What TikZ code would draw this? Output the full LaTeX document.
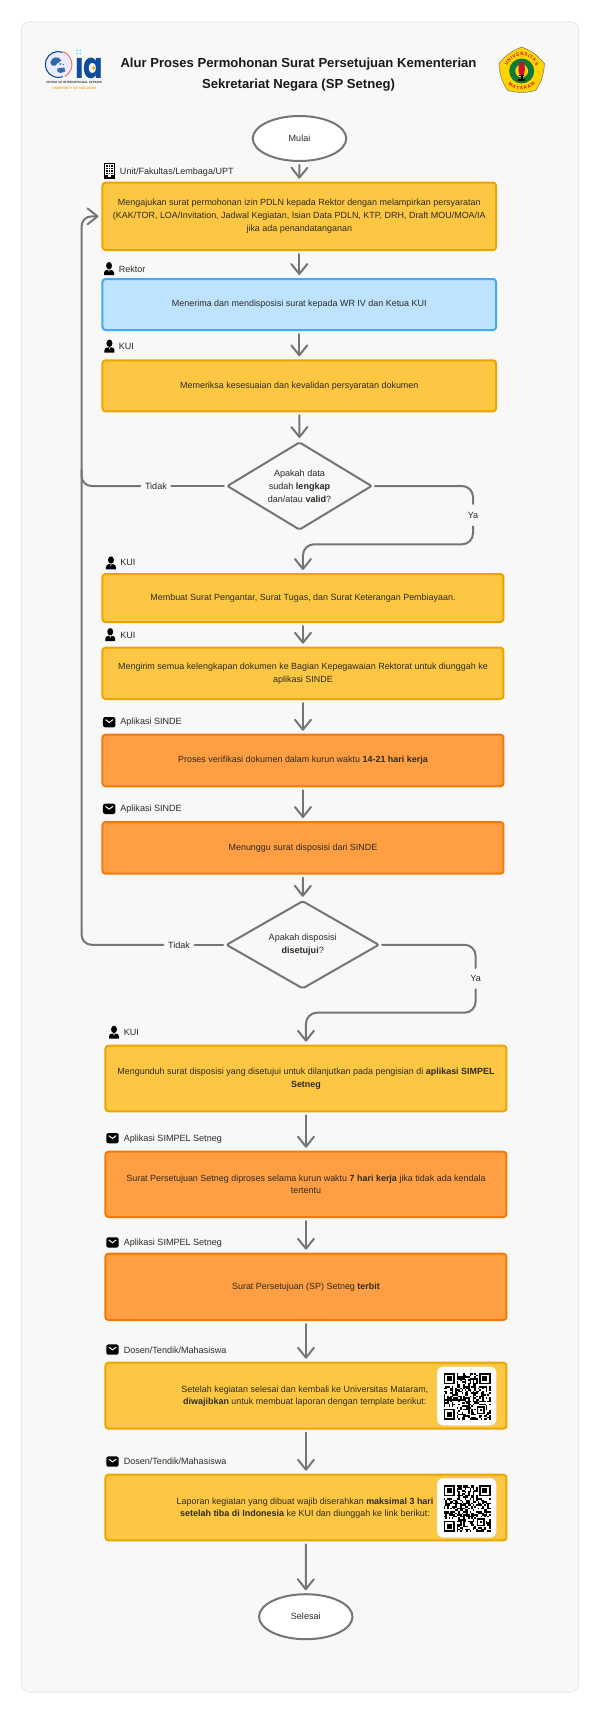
\documentclass[tikz,border=0pt]{standalone}
\usepackage{fontspec}
\setmainfont{Liberation Sans}
\newfontfamily\logofont{Poppins}
\usetikzlibrary{shapes.geometric,arrows.meta,decorations.text}
\definecolor{panelc}{HTML}{F8F8F8}
\definecolor{panelb}{HTML}{E9E9E9}
\definecolor{linegray}{HTML}{757575}
\definecolor{yelf}{HTML}{FEC743}
\definecolor{yels}{HTML}{EBA500}
\definecolor{blf}{HTML}{BEE3FF}
\definecolor{bls}{HTML}{42ABF7}
\definecolor{orf}{HTML}{FF9E42}
\definecolor{ors}{HTML}{F27A0A}
\definecolor{txt}{HTML}{2B2B24}
\definecolor{iablue}{HTML}{0F4C9C}
\definecolor{iagold}{HTML}{E9A825}
\definecolor{sealy}{HTML}{FFD400}
\definecolor{sealr}{HTML}{C8102E}
\definecolor{sealg}{HTML}{0F7A3A}
\tikzset{
  boxbase/.style={rectangle,rounded corners=3pt,line width=2pt,inner sep=0pt,align=center,
    text=txt,font=\fontsize{8.95}{12.8}\selectfont},
  yellowbox/.style={boxbase,draw=yels,fill=yelf},
  bluebox/.style={boxbase,draw=bls,fill=blf},
  orangebox/.style={boxbase,draw=ors,fill=orf},
  wA/.style={minimum width=393.6pt},
  wB/.style={minimum width=401pt},
  terminal/.style={ellipse,draw=linegray,fill=white,line width=2pt,inner sep=0pt,
    minimum width=93.5pt,minimum height=45pt,text=txt,font=\fontsize{9.05}{12.8}\selectfont},
  decision/.style={diamond,draw=linegray,fill=panelc,line width=2pt,inner sep=0pt,rounded corners=2pt,
    align=center,text=txt,font=\fontsize{9.05}{12.8}\selectfont},
  conn/.style={draw=linegray,line width=2pt,line cap=round,
    -{Straight Barb[length=10pt,width=16pt,round]},shorten <=3pt,shorten >=3pt},
  plain/.style={draw=linegray,line width=2pt,line cap=round},
  edgelbl/.style={inner sep=0pt,text=txt,font=\fontsize{9.05}{12.8}\selectfont},
  boxtext/.style={inner sep=0pt,text=txt,font=\fontsize{8.95}{12.8}\selectfont},
  lbl/.style={anchor=west,inner sep=0pt,text=txt,font=\fontsize{9.05}{12.8}\selectfont},
}
\newcommand{\personicon}[2]{\begin{scope}[shift={(#1,#2)}]
  \fill[black] (5,3.7) ellipse [x radius=3,y radius=3.7];
  \fill[black] (0,13) -- (0,10.6) .. controls (0,8.8) and (1.5,8) .. (3.4,7.8) -- (6.6,7.8)
     .. controls (8.5,8) and (10,8.8) .. (10,10.6) -- (10,13) -- cycle;
  \fill[white] (4.3,8) -- (5.7,8) -- (5,10) -- cycle;
\end{scope}}
\newcommand{\mailicon}[2]{\begin{scope}[shift={(#1,#2)}]
  \fill[black,rounded corners=2.2pt] (0,0) rectangle (12.5,10.3);
  \draw[white,line width=1pt,line cap=round] (2.7,2.8) -- (6.25,5.4) -- (9.8,2.8);
\end{scope}}
\newcommand{\buildicon}[2]{\begin{scope}[shift={(#1,#2)}]
  \draw[black,line width=1pt,fill=white] (.5,.5) rectangle (10.3,15.5);
  \foreach \a in {2.3,4.6,6.9}{\foreach \b in {2.3,4.7,7.1,9.5}{\fill[black] (\a,\b) rectangle ++(1.6,1.6);}}
  \fill[black] (.5,12) rectangle (3.6,16);
  \fill[black] (7.2,12) rectangle (10.3,16);
  \fill[black] (3.6,14) rectangle (7.2,16);
\end{scope}}
\newcommand{\qrfinder}[2]{%
  \fill[black] (#1*1.62,#2*1.62) rectangle ++(11.34,11.34);
  \fill[white] (#1*1.62+1.62,#2*1.62+1.62) rectangle ++(8.1,8.1);
  \fill[black] (#1*1.62+3.24,#2*1.62+3.24) rectangle ++(4.86,4.86);}
\newcommand{\qrblock}[3]{\begin{scope}[shift={(#1,#2)}]
  \pgfmathsetseed{#3}
  \foreach \i in {0,...,28}{\foreach \j in {0,...,28}{%
    \pgfmathrandominteger{\rr}{0}{99}%
    \ifnum\rr<50\relax
      \fill[black] (\i*1.62,\j*1.62) rectangle ++(1.64,1.64);
    \fi}}
  \fill[white] (0,0) rectangle (12.96,12.96);
  \fill[white] (34.02,0) rectangle (46.98,12.96);
  \fill[white] (0,34.02) rectangle (12.96,46.98);
  \qrfinder{0}{0}\qrfinder{22}{0}\qrfinder{0}{22}
  \fill[white] (32.4,32.4) rectangle ++(9.72,9.72);
  \fill[black] (33.2,33.2) rectangle ++(8.1,8.1);
  \fill[white] (34.82,34.82) rectangle ++(4.86,4.86);
  \fill[black] (36.44,36.44) rectangle ++(1.62,1.62);
\end{scope}}
\begin{document}
\begin{tikzpicture}[x=0.995pt,y=-1pt]
\useasboundingbox (0,0) rectangle (603,1714);
\fill[white] (0,0) rectangle (603,1714);
\draw[draw=panelb,fill=panelc,line width=1pt,rounded corners=8pt] (21.5,22) rectangle (581.5,1692);

% logo left
\begin{scope}[shift={(58.6,64.5)},x=1pt,y=1pt]
  \fill[blue!8!white] (0,0) circle (12.4);
  \draw[iablue,line width=1.1pt] (70:13) arc (70:290:13);
  \draw[red!65!white,line width=.9pt] (68:13.6) arc (68:-62:13.6);
  \fill[iablue!85] (-8,2) .. controls (-7,8) and (1,9) .. (3,4) .. controls (1,1) and (-2,2) .. (-3,-1) .. controls (-5,-2) and (-7,-1) .. cycle;
  \fill[iablue!85] (-1,-4) -- (6,-3) -- (7,-7) -- (2,-8.5) -- (-1,-7) -- cycle;
  \fill[iablue!85] (2,0.5) circle (1) (5,0) circle (.8);
\end{scope}
\node[inner sep=0pt,text=iablue,xscale=.8,font=\logofont\bfseries\fontsize{36}{36}\selectfont,anchor=center] (ialogo) at (89.6,64.5) {ia};
\fill[panelc] (74,45) rectangle (85,55.6);
\fill[blue!30!cyan!55!white] (77.4,50.4) circle (1) (80.6,50.4) circle (1) (77.4,53.6) circle (1) (80.6,53.6) circle (1);
\fill[iagold] (94.2,68) circle (1.9);
\node[inner sep=0pt,text=black!80,font=\bfseries\fontsize{3.05}{3.4}\selectfont] (iaone) at (74.5,82.9) {OFFICE OF INTERNATIONAL AFFAIRS};
\node[inner sep=0pt,text=iagold,font=\bfseries\fontsize{3.35}{3.6}\selectfont] (iatwo) at (74.5,88) {UNIVERSITY OF MATARAM};

% seal right
\begin{scope}[shift={(524.3,71)},x=1pt,y=1pt]
  \draw[black!55,line width=.5pt,fill=sealy] (90:24) to[bend left=14] (18:24) to[bend left=14] (-54:24)
     to[bend left=14] (-126:24) to[bend left=14] (162:24) to[bend left=14] cycle;
  \fill[sealg] (0,0) circle (12.5);
  \fill[sealy] (0,0) circle (6.4);
  \fill[sealr] (0,2) ellipse [x radius=3.2,y radius=7.5];
  \fill[black] (-3.2,-9.5) rectangle (3.2,-8.2);
  \fill[black] (-1,-8.2) rectangle (1,-4.5);
  \fill[black] (-2.5,-5) rectangle (2.5,-4);
  \path[postaction={decorate,decoration={text along path,text align={fit to path},
     text={|\fontsize{4.6}{5}\bfseries\selectfont\color{sealr}|UNIVERSITAS}}}]
     (160:15.2) arc (160:20:15.2);
  \path[postaction={decorate,decoration={text along path,text align={fit to path},
     text={|\fontsize{4.6}{5}\bfseries\selectfont\color{sealr}|MATARAM}}}]
     (-135:19) arc (-135:-45:19);
\end{scope}

% title
\node[inner sep=0pt,align=center,text=black!90,font=\bfseries\fontsize{13.1}{20.4}\selectfont] (title) at (300,74.8)
  {Alur Proses Permohonan Surat Persetujuan Kementerian\\Sekretariat Negara (SP Setneg)};

% terminals and boxes
\node[terminal] (mulai) at (301,138.5) {Mulai};
\node[yellowbox,wA,minimum height=67.3pt] (b1) at (300.8,216.35)
 {Mengajukan surat permohonan izin PDLN kepada Rektor dengan melampirkan persyaratan\\
  (KAK/TOR, LOA/Invitation, Jadwal Kegiatan, Isian Data PDLN, KTP, DRH, Draft MOU/MOA/IA\\
  jika ada penandatanganan};
\node[bluebox,wA,minimum height=51pt] (b2) at (300.8,304.5) {Menerima dan mendisposisi surat kepada WR IV dan Ketua KUI};
\node[yellowbox,wA,minimum height=51pt] (b3) at (300.8,385.8) {Memeriksa kesesuaian dan kevalidan persyaratan dokumen};
\node[decision,aspect=1.65,minimum width=145pt,minimum height=88pt] (d1) at (301,486)
 {Apakah data\\sudah \textbf{lengkap}\\dan/atau \textbf{valid}?};
\node[yellowbox,wB,minimum height=48pt] (b4) at (304.5,598) {Membuat Surat Pengantar, Surat Tugas, dan Surat Keterangan Pembiayaan.};
\node[yellowbox,wB,minimum height=51.3pt] (b5) at (304.5,673.35)
 {Mengirim semua kelengkapan dokumen ke Bagian Kepegawaian Rektorat untuk diunggah ke\\aplikasi SINDE};
\node[orangebox,wB,minimum height=51.6pt] (b6) at (304.5,760.5) {Proses verifikasi dokumen dalam kurun waktu \textbf{14-21 hari kerja}};
\node[orangebox,wB,minimum height=51.7pt] (b7) at (304.5,847.85) {Menunggu surat disposisi dari SINDE};
\node[decision,aspect=1.75,minimum width=153pt,minimum height=88pt] (d2) at (304.2,944.8) {Apakah disposisi\\\textbf{disetujui}?};
\node[yellowbox,wB,minimum height=65.6pt] (b8) at (307.5,1078.5)
 {Mengunduh surat disposisi yang disetujui untuk dilanjutkan pada pengisian di \textbf{aplikasi SIMPEL}\\\textbf{Setneg}};
\node[orangebox,wB,minimum height=65.3pt] (b9) at (307.5,1184.35)
 {Surat Persetujuan Setneg diproses selama kurun waktu \textbf{7 hari kerja} jika tidak ada kendala\\tertentu};
\node[orangebox,wB,minimum height=66.3pt] (b10) at (307.5,1286.85) {Surat Persetujuan (SP) Setneg \textbf{terbit}};
\node[yellowbox,wB,minimum height=66pt] (b11) at (307.5,1395.7) {};
\node[boxtext,align=center] (t11) at (306.4,1396.2)
 {Setelah kegiatan selesai dan kembali ke Universitas Mataram,\\\textbf{diwajibkan} untuk membuat laporan dengan template berikut:};
\node[yellowbox,wB,minimum height=65.6pt] (b12) at (307.5,1507.5) {};
\node[boxtext,align=center] (t12) at (306.6,1508.2)
 {Laporan kegiatan yang dibuat wajib diserahkan \textbf{maksimal 3 hari}\\\textbf{setelah tiba di Indonesia} ke KUI dan diunggah ke link berikut:};
\node[terminal] (selesai) at (307.3,1616.7) {Selesai};

% QR
\node[draw=black!8,line width=.4pt,fill=white,rounded corners=6pt,minimum width=59pt,minimum height=58.5pt,inner sep=0pt] (qa) at (469,1396) {};
\node[draw=black!8,line width=.4pt,fill=white,rounded corners=6pt,minimum width=59pt,minimum height=59pt,inner sep=0pt] (qb) at (469,1507.8) {};
\qrblock{446}{1373}{7}
\qrblock{446}{1485}{23}

% lane labels
\buildicon{104.6}{163}
\node[lbl] (l1) at (120.4,172) {Unit/Fakultas/Lembaga/UPT};
\personicon{104.6}{262}
\node[lbl] (l2) at (119.2,269) {Rektor};
\personicon{105}{339.5}
\node[lbl] (l3) at (119.2,346) {KUI};
\personicon{106.5}{556.3}
\node[lbl] (l4) at (120.8,562.7) {KUI};
\personicon{105.8}{628}
\node[lbl] (l5) at (120.8,635) {KUI};
\mailicon{103.5}{717}
\node[lbl] (l6) at (120.8,722.3) {Aplikasi SINDE};
\mailicon{103.5}{803.7}
\node[lbl] (l7) at (120.8,809) {Aplikasi SINDE};
\personicon{109.6}{1025.7}
\node[lbl] (l8) at (124.2,1032.3) {KUI};
\mailicon{106.8}{1133}
\node[lbl] (l9) at (124.2,1138.7) {Aplikasi SIMPEL Setneg};
\mailicon{106.8}{1237.3}
\node[lbl] (l10) at (124.2,1243) {Aplikasi SIMPEL Setneg};
\mailicon{106.8}{1344.4}
\node[lbl] (l11) at (124.2,1350.3) {Dosen/Tendik/Mahasiswa};
\mailicon{106.8}{1456.4}
\node[lbl] (l12) at (124.2,1461.7) {Dosen/Tendik/Mahasiswa};

% branch labels
\node[edgelbl,minimum width=30.5pt] (t1) at (156.7,486) {Tidak};
\node[edgelbl,minimum width=30.8pt] (t2) at (180,944.8) {Tidak};
\node[edgelbl,minimum height=22pt] (y1) at (475.4,515.2) {Ya};
\node[edgelbl,minimum height=21pt] (y2) at (478,978.6) {Ya};
\coordinate (trunk) at (82,216.35);
\coordinate (join) at (82,470);
\coordinate (ya1) at (304.5,544.3);
\coordinate (ya2) at (307.5,1012.7);

% connectors
\draw[conn] (mulai.south) -- (b1.north);
\draw[conn] (b1.south) -- (b2.north);
\draw[conn] (b2.south) -- (b3.north);
\draw[conn] (b3.south) -- (d1.north);
\draw[conn] (b4.south) -- (b5.north);
\draw[conn] (b5.south) -- (b6.north);
\draw[conn] (b6.south) -- (b7.north);
\draw[conn] (b7.south) -- (d2.north);
\draw[conn] (b8.south) -- (b9.north);
\draw[conn] (b9.south) -- (b10.north);
\draw[conn] (b10.south) -- (b11.north);
\draw[conn] (b11.south) -- (b12.north);
\draw[conn] (b12.south) -- (selesai.north);
\draw[plain,shorten <=2pt] (d1.west) -- (t1.east);
\draw[conn,shorten <=0pt,rounded corners=10pt] (t1.west) -| (trunk) -- (b1.west);
\draw[plain,shorten <=2pt] (d2.west) -- (t2.east);
\draw[plain,rounded corners=10pt] (t2.west) -| (join);
\draw[plain,shorten <=2pt,rounded corners=11pt] (d1.east) -| (y1.north);
\draw[conn,shorten <=0pt,rounded corners=11pt] (y1.south) |- (ya1) -- (b4.north);
\draw[plain,shorten <=2pt,rounded corners=11pt] (d2.east) -| (y2.north);
\draw[conn,shorten <=0pt,rounded corners=11pt] (y2.south) |- (ya2) -- (b8.north);
\end{tikzpicture}
\end{document}
